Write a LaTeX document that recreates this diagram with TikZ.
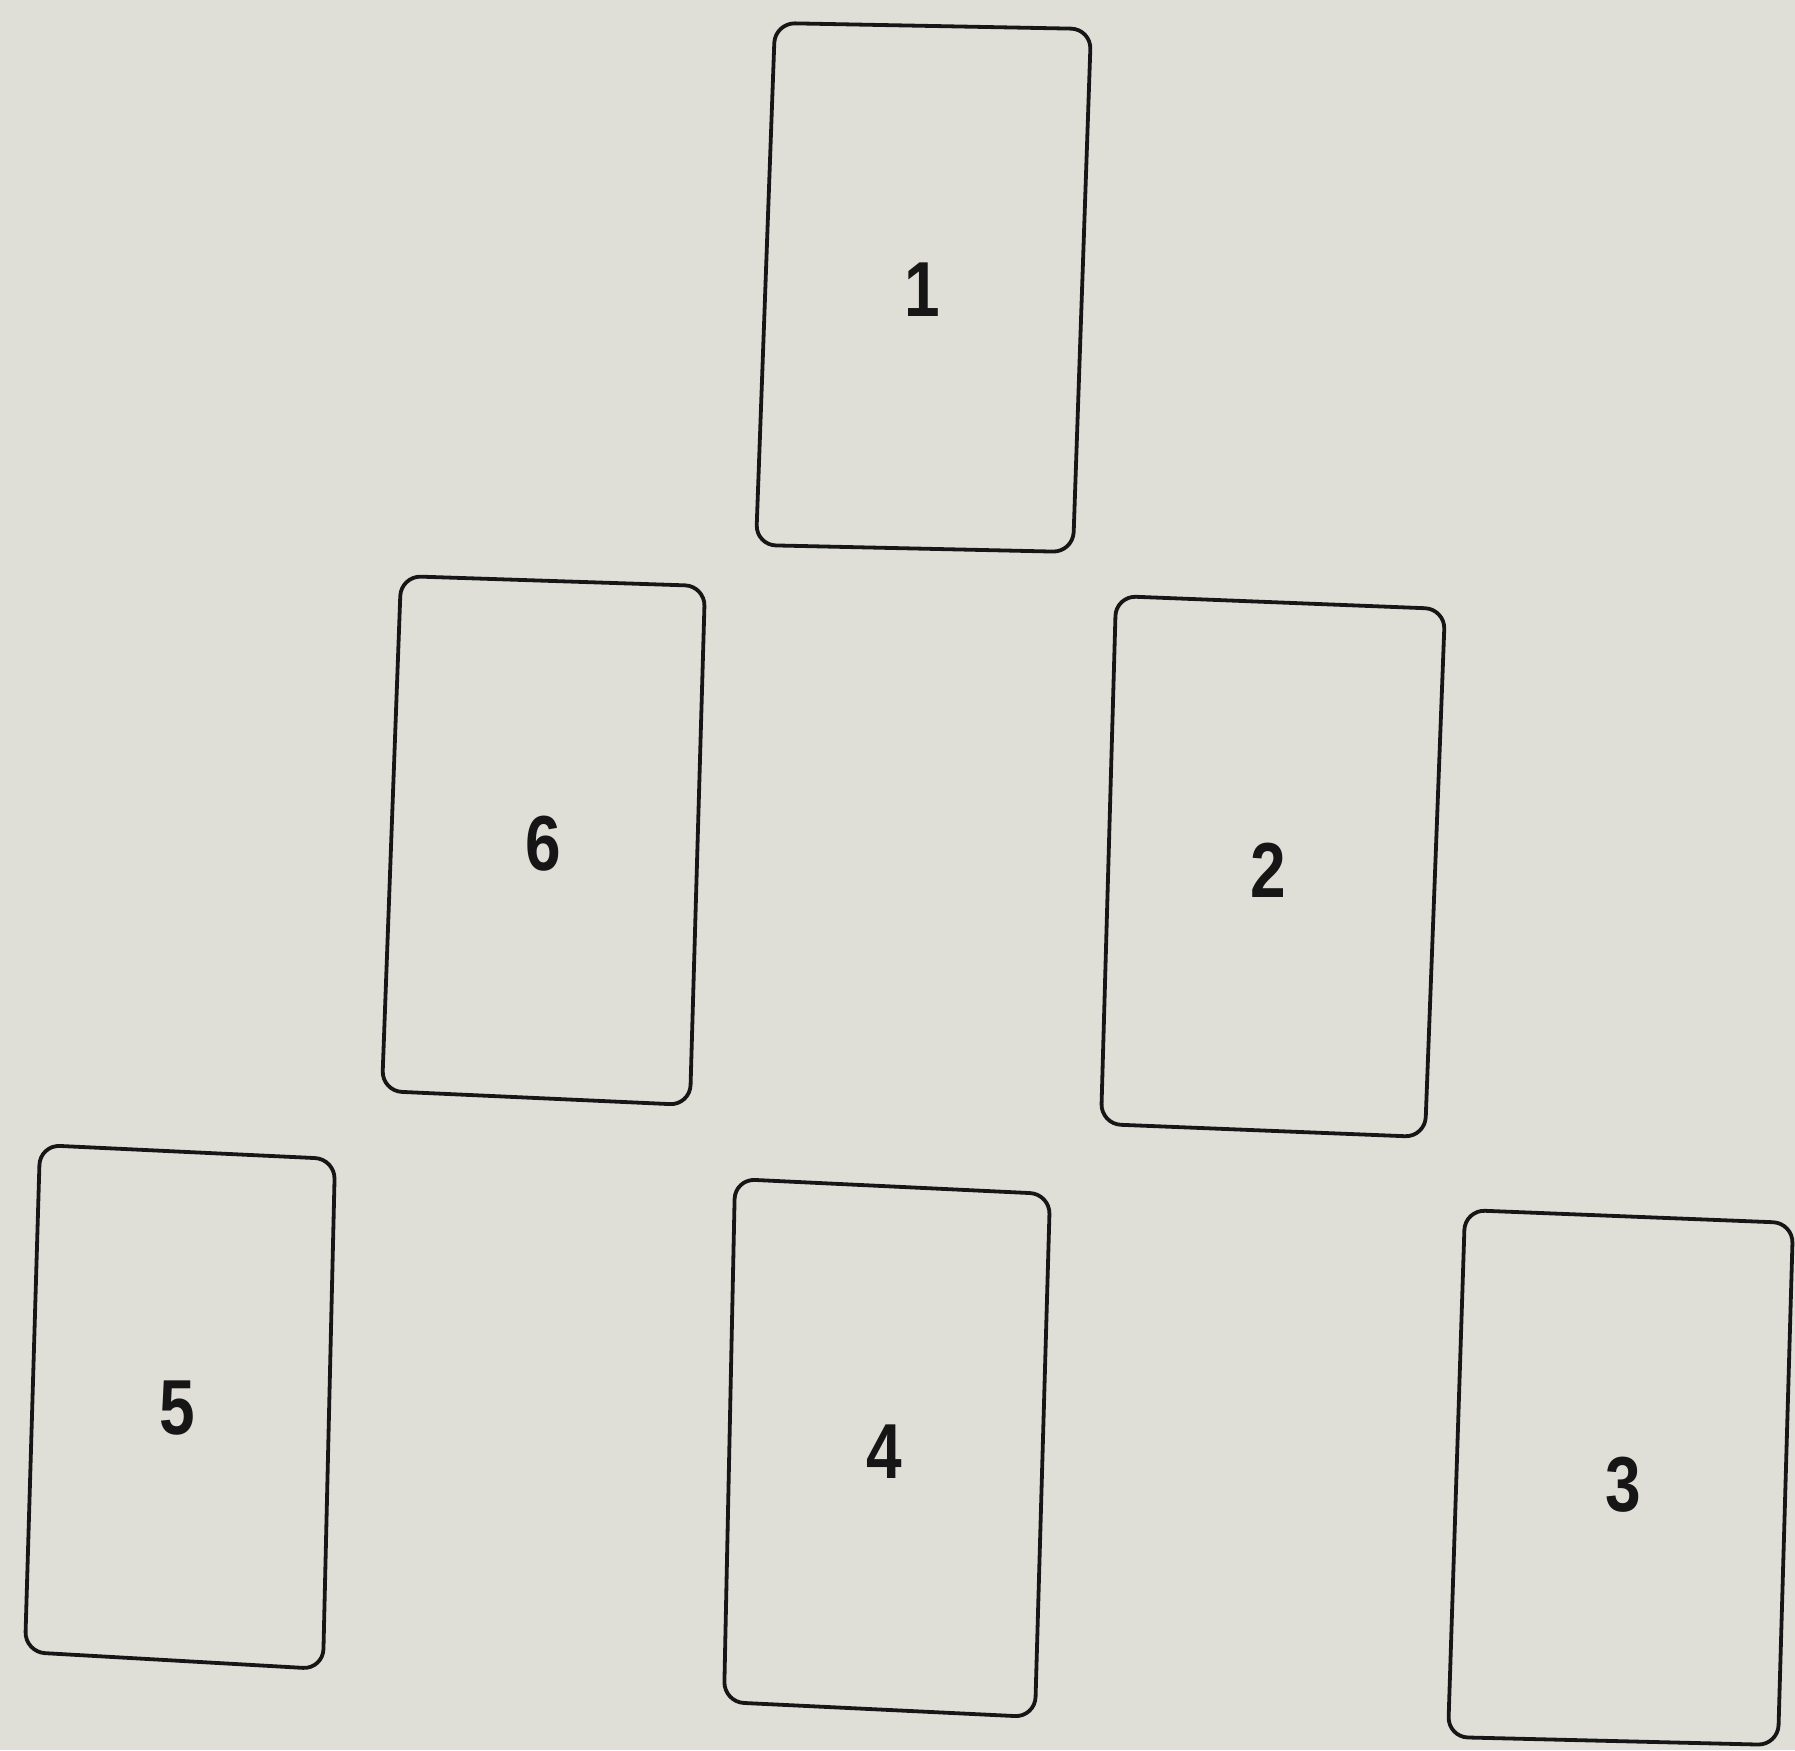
\documentclass[tikz,border=0pt]{standalone}
\usepackage{fontspec}
\setmainfont{Liberation Sans}
\definecolor{paper}{RGB}{224,223,215}
\definecolor{ink}{RGB}{22,22,22}
\tikzset{
  card/.style={draw=ink, line width=3.8pt, rounded corners=20pt, line join=round},
  cardnum/.style={font=\fontsize{78}{78}\selectfont\bfseries, text=ink, xscale=0.82, inner sep=0pt}
}
\begin{document}
\begin{tikzpicture}[x=1pt,y=-1pt]
\fill[paper] (0,0) rectangle (1795,1750);
\useasboundingbox (0,0) rectangle (1795,1750);
% card 1
\draw[card] (775,23) -- (1091,29) -- (1073,552) -- (756,545) -- cycle;
\node[cardnum] (n1) at (922,290) {1};
% card 6
\draw[card] (401,576) -- (705,586) -- (690,1105) -- (382,1091) -- cycle;
\node[cardnum] (n6) at (543,844) {6};
% card 2
\draw[card] (1116,596) -- (1445,609) -- (1425,1137) -- (1101,1124) -- cycle;
\node[cardnum] (n2) at (1268,870) {2};
% card 5
\draw[card] (40,1145) -- (335,1159) -- (323,1669) -- (25,1652) -- cycle;
\node[cardnum] (n5) at (177,1408) {5};
% card 4
\draw[card] (735,1179) -- (1050,1194) -- (1035,1717) -- (724,1702) -- cycle;
\node[cardnum] (n4) at (884,1452) {4};
% card 3
\draw[card] (1465,1210) -- (1793,1223) -- (1778,1745) -- (1448,1737) -- cycle;
\node[cardnum] (n3) at (1623,1485) {3};
\end{tikzpicture}
\end{document}
